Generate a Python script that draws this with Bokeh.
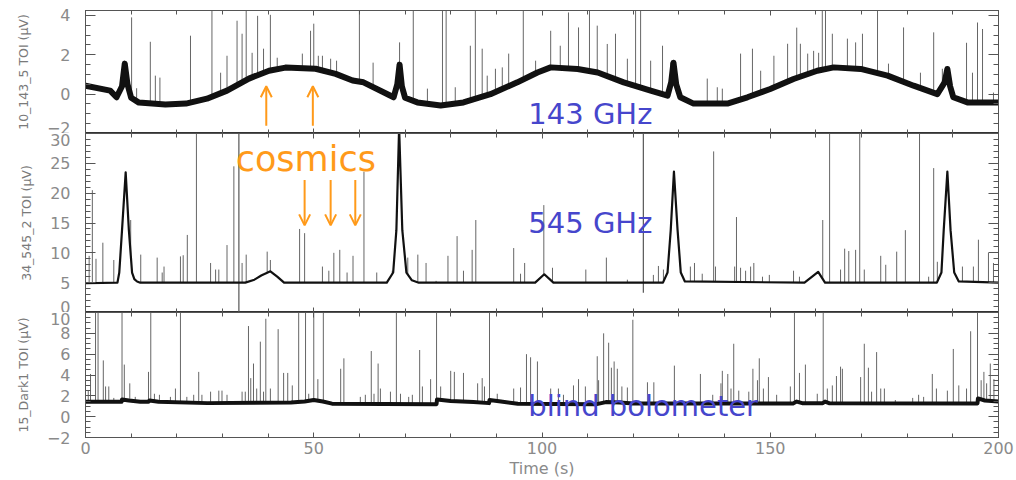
import numpy as np
from bokeh.plotting import figure
from bokeh.layouts import column
from bokeh.models import LinearAxis, FixedTicker, Range1d, Label, Arrow, OpenHead
from bokeh.embed import file_html
from bokeh.resources import INLINE

# ---------------- data ----------------
time_ticks = [0, 50, 100, 150, 200]
time_minor = list(range(0, 201, 10))

# Panel 1 : 143 GHz bolometer (µV)
p1_base_t = [0, 5.4, 6.8, 8.0, 8.6, 9.2, 10.0, 11.7, 17.5, 22.0, 26.6, 31.0, 35.8, 40.2, 43.8, 50.4,
             54.8, 58.5, 60.9, 67.5, 68.3, 68.8, 69.3, 70.0, 72.7, 77.8, 82.8, 88.7, 94.6, 99.0, 101.9,
             107.8, 112.2, 117.9, 123.8, 127.5, 128.3, 128.8, 129.4, 130.3, 133.2, 140.6, 145.0, 150.0,
             155.1, 160.3, 163.9, 169.8, 175.7, 181.4, 186.6, 188.2, 188.8, 189.4, 190.1, 193.2, 200]
p1_base_v = [0.43, 0.18, -0.16, 0.4, 1.55, 0.5, -0.18, -0.43, -0.53, -0.48, -0.23, 0.18, 0.79, 1.19, 1.35,
             1.29, 1.03, 0.69, 0.6, -0.16, 0.5, 1.5, 0.4, -0.18, -0.42, -0.58, -0.42, 0.0, 0.6, 1.1, 1.36,
             1.28, 1.1, 0.6, 0.18, -0.08, 0.6, 1.6, 0.5, -0.16, -0.48, -0.48, -0.16, 0.26,
             0.77, 1.19, 1.36, 1.28, 0.94, 0.43, 0.0, 0.6, 1.28, 0.4, -0.16, -0.42, -0.42]
p1_spike_t = [10.1, 11.2, 14.2, 15.3, 16.3, 23.0, 27.7, 29.6, 31.0, 33.2, 34.3, 35.2, 36.5, 37.7, 39.0,
              40.5, 42.0, 47.5, 49.3, 50.0, 51.0, 51.9, 53.7, 55.0, 60.0, 63.0, 68.8, 71.8, 74.9, 78.2,
              79.0, 81.0, 84.3, 85.4, 86.9, 88.0, 89.8, 91.3, 92.7, 95.9, 98.6, 101.9, 104.0, 105.8,
              108.0, 110.4, 112.1, 114.3, 116.1, 118.7, 120.5, 121.6, 123.8, 126.4, 128.2, 136.2, 138.4,
              139.5, 143.5, 146.1, 147.9, 150.8, 153.8, 155.8, 156.6, 158.2, 159.5, 160.6, 161.4, 162.1,
              163.6, 166.9, 168.7, 170.2, 173.5, 175.9, 179.2, 182.9, 185.8, 187.7, 193.0, 194.3, 195.4,
              196.5, 198.9]
p1_spike_v = [3.9, 0.3, 2.66, 0.94, 0.84, 2.97, 4.5, 1.09, 1.95, 3.73, 3.07, 4.5, 2.1, 3.98, 2.31,
              4.03, 1.85, 2.06, 3.22, 3.58, 1.95, 1.95, 1.8, 1.7, 4.5, 1.6, 2.63, 4.5, 0.28, 4.5,
              4.5, 0.35, 2.46, 4.5, 2.31, 0.94, 1.29, 1.36, 2.06, 4.5, 1.7, 3.22, 2.46, 4.15,
              3.39, 4.5, 3.48, 2.55, 3.07, 1.8, 4.5, 4.5, 1.7, 2.46, 1.6, 0.79, 0.35,
              0.28, 2.06, 2.31, 1.19, 1.95, 2.56, 3.38, 2.56, 2.06, 2.2, 2.1, 4.5, 4.5,
              3.07, 2.82, 2.63, 3.07, 4.5, 1.55, 3.39, 1.09, 3.14, 1.29, 2.61, 1.09, 3.64,
              3.31, 0.08]

# Panel 2 : 545 GHz bolometer (µV)
p2_base_t = [0, 7.0, 7.4, 8.0, 8.8, 9.5, 10.2, 10.7, 11.3, 12.0, 35.0, 37.0, 38.5, 40.5, 42.0, 43.5,
             66.0, 67.4, 68.1, 68.7, 69.4, 70.3, 71.5, 73.0, 98.5, 100.5, 102.5,
             126.5, 127.5, 128.2, 128.9, 129.7, 130.4, 131.3, 157.5, 160.5, 162.0,
             186.5, 187.5, 188.0, 188.8, 189.5, 190.3, 191.3, 200]
p2_base_v = [4.9, 5.0, 6.7, 13.8, 23.5, 13.8, 6.7, 5.6, 5.2, 5.0, 5.0, 5.5, 6.2, 6.9, 6.0, 5.0,
             5.0, 6.7, 13.8, 31.0, 13.8, 6.7, 5.4, 5.0, 5.0, 6.4, 5.0,
             5.0, 6.7, 13.8, 23.6, 13.8, 6.7, 5.2, 5.0, 6.8, 5.0,
             5.0, 6.7, 13.8, 23.6, 13.8, 6.7, 5.2, 5.0]
p2_spike_t = [0.8, 1.5, 2.3, 3.8, 6.2, 9.9, 12.1, 15.7, 16.8, 17.2, 20.8, 21.4, 22.3, 24.3, 27.4, 28.5,
              29.2, 31.0, 32.5, 34.3, 35.2, 39.8, 40.5, 46.9, 48.0, 51.9, 53.3, 54.4, 55.7, 57.3, 58.6,
              61.0, 63.8, 67.2, 70.6, 72.8, 74.6, 76.8, 79.4, 81.4, 82.8, 84.7, 85.5, 93.8, 95.3, 96.2,
              100.4, 102.3, 109.6, 114.1, 118.7, 124.4, 125.5, 126.6, 130.3, 132.5, 133.4, 135.1, 137.6,
              138.0, 142.2, 142.6, 143.5, 144.6, 145.7, 146.4, 148.3, 149.8, 155.1, 156.4, 161.5, 163.0,
              165.4, 166.3, 167.2, 168.7, 169.6, 170.6, 174.2, 175.3, 177.7, 179.6, 182.7, 184.7, 185.8,
              186.6, 192.1, 194.5, 195.6, 197.8, 198.9]
p2_spike_v = [9.5, 20.5, 9.0, 11.7, 8.8, 15.5, 9.7, 9.2, 6.7, 7.7, 9.4, 9.6, 13.0, 31.0, 8.3, 7.2,
              7.2, 11.3, 24.5, 8.3, 9.7, 10.2, 8.8, 14.0, 13.3, 7.7, 7.0, 10.0, 10.5, 6.7, 9.5,
              23.6, 6.7, 7.0, 9.2, 9.7, 8.3, 5.3, 9.5, 12.8, 7.0, 10.5, 15.5, 10.8, 6.5, 8.3,
              18.0, 7.5, 7.2, 9.2, 5.5, 6.3, 7.8, 7.2, 8.3, 7.7, 8.3, 6.5, 27.0,
              7.7, 7.7, 16.0, 7.5, 7.0, 7.7, 8.3, 6.0, 6.3, 7.0, 6.0, 15.5, 31.0,
              7.2, 10.7, 10.3, 10.5, 31.0, 7.2, 9.5, 8.0, 10.2, 13.8, 31.0, 6.0, 24.2,
              8.5, 7.7, 7.7, 12.2, 10.0, 8.3]
# glitches that also go below the baseline
p2_glitch_t = [33.6, 122.2]
p2_glitch_lo = [0.0, 3.3]
p2_glitch_hi = [31.0, 31.0]

# Panel 3 : blind (dark) bolometer (µV)
p3_base_t = [0, 7.9, 8.0, 9.5, 12.0, 13.8, 14.0, 16.0, 26.7, 45.0, 48.0, 50.0, 52.0, 54.0, 76.9, 77.0,
             80.0, 85.0, 88.4, 88.5, 91.0, 94.7, 112.0, 114.0, 117.0, 120.0, 155.0, 155.8, 157.0,
             161.5, 162.0, 163.0, 195.4, 195.5, 197.0, 200]
p3_base_v = [1.43, 1.43, 1.65, 1.55, 1.43, 1.43, 1.55, 1.43, 1.3, 1.35, 1.45, 1.6, 1.45, 1.25, 1.2, 1.65,
             1.5, 1.4, 1.3, 1.6, 1.45, 1.25, 1.2, 1.4, 1.35, 1.27, 1.27, 1.45, 1.3,
             1.3, 1.45, 1.28, 1.27, 1.75, 1.55, 1.45]
p3_spike_t = [0.6, 1.1, 2.2, 2.75, 3.9, 4.4, 5.1, 6.2, 8.0, 8.5, 9.7, 10.9, 13.8, 14.3, 15.1, 16.2, 18.6,
              19.7, 20.8, 22.2, 23.7, 24.8, 25.5, 27.4, 29.2, 29.9, 31.0, 34.3, 35.0, 35.7, 36.2, 36.8,
              37.5, 38.3, 39.0, 39.5, 40.5, 42.2, 43.4, 44.3, 45.3, 46.7, 48.2, 48.9, 50.0, 50.9, 52.1,
              55.9, 56.6, 60.2, 61.3, 62.6, 63.2, 64.1, 64.6, 66.8, 68.1, 69.0, 70.8, 71.6, 73.2, 73.8,
              75.6, 76.9, 77.8, 80.0, 80.8, 82.8, 85.9, 86.9, 87.4, 88.5, 90.2, 93.8, 95.3, 96.6, 97.5,
              99.0, 101.9, 103.6, 104.7, 106.9, 108.0, 109.5, 112.1, 112.4, 113.5, 114.6, 115.2, 115.8,
              116.5, 117.5, 118.7, 119.9, 123.1, 124.5, 129.0, 134.7, 137.4, 139.2, 139.5, 140.7, 141.4,
              142.0, 143.1, 145.3, 146.2, 147.2, 147.6, 148.5, 149.6, 151.4, 154.4, 155.3, 156.4, 157.7,
              160.3, 161.6, 162.5, 163.6, 164.5, 165.4, 165.8, 169.8, 170.6, 171.5, 172.2, 173.3, 174.2,
              175.0, 177.4, 181.2, 182.5, 183.6, 185.5, 186.4, 188.8, 190.1, 191.3, 193.0, 193.9, 195.4,
              196.2, 196.8, 197.4, 198.2, 199.0]
p3_spike_v = [2.5, 4.1, 10.5, 10.5, 5.4, 2.9, 2.9, 1.8, 10.5, 5.0, 3.2, 1.9, 4.3, 10.5, 2.2, 2.1, 1.9,
              2.7, 10.5, 1.9, 2.1, 4.3, 2.1, 2.4, 2.5, 2.5, 2.1, 2.4, 2.4, 8.7, 3.7, 5.1,
              2.7, 7.2, 2.4, 9.4, 2.7, 8.4, 4.2, 4.2, 3.0, 10.5, 10.5, 2.2, 10.5, 3.6, 10.5,
              4.6, 5.6, 1.9, 2.1, 6.3, 2.2, 5.1, 2.7, 2.4, 10.5, 2.2, 1.9, 2.1, 6.4, 2.9,
              3.6, 10.5, 2.9, 4.4, 4.3, 4.2, 3.2, 3.7, 2.9, 10.5, 2.2, 2.7, 2.8, 6.0, 5.7,
              5.3, 2.7, 2.7, 2.1, 3.0, 3.6, 2.9, 5.8, 3.5, 8.0, 7.1, 4.7, 5.3,
              4.6, 2.9, 2.8, 9.3, 3.3, 3.3, 4.9, 4.1, 2.1, 3.2, 4.4, 4.1, 2.7,
              7.0, 2.5, 2.4, 4.6, 3.5, 5.6, 2.7, 3.8, 2.1, 2.9, 10.5, 4.2, 5.0,
              2.2, 10.5, 2.7, 3.0, 3.9, 4.8, 4.6, 3.8, 7.0, 4.7, 2.4, 6.2, 2.7,
              2.7, 1.6, 1.8, 2.1, 1.9, 4.1, 2.7, 2.5, 6.5, 3.0, 2.7, 8.2, 10.5,
              3.5, 4.3, 3.2, 5.1, 3.6]

# ---------------- styling ----------------
FONT = "DejaVu Sans"
AX = "#555555"
LAB = "#8a8a8a"
BLUE = "#4646cc"
ORANGE = "#ff9a1a"
XR = Range1d(0, 200)


def hide_labels(ax):
    # labels are measured (1px) but never painted
    ax.major_label_text_font_size = "1px"
    ax.major_label_text_color = None
    ax.major_label_standoff = 0
    ax.axis_label = None


def style_ticks(ax, major_in, minor_in):
    ax.major_tick_in = major_in
    ax.major_tick_out = 0
    ax.minor_tick_in = minor_in
    ax.minor_tick_out = 0
    ax.axis_line_color = AX
    ax.major_tick_line_color = AX
    ax.minor_tick_line_color = AX


def panel(height, btop, bbottom, yr, yticks, yminor, ylabel, bottom_labels=False):
    p = figure(width=1016, height=height, x_range=XR, y_range=Range1d(*yr),
               output_backend="svg", toolbar_location=None,
               x_axis_location=None, y_axis_location=None,
               min_border_left=85, min_border_right=18,
               min_border_top=btop, min_border_bottom=bbottom)
    p.outline_line_color = "#333333"
    p.outline_line_width = 1
    p.background_fill_color = "white"
    p.border_fill_color = "white"
    p.grid.grid_line_color = None
    p.grid.visible = False

    left = LinearAxis(ticker=FixedTicker(ticks=yticks, minor_ticks=yminor), axis_label=ylabel)
    style_ticks(left, 10, 5)
    left.major_label_standoff = 15
    left.major_label_text_font = FONT
    left.major_label_text_font_size = "16px"
    left.major_label_text_color = LAB
    left.axis_label_text_font = FONT
    left.axis_label_text_font_size = "12.5px"
    left.axis_label_text_font_style = "normal"
    left.axis_label_text_color = "#7a7a7a"
    left.axis_label_standoff = 13
    p.add_layout(left, "left")

    right = LinearAxis(ticker=FixedTicker(ticks=yticks, minor_ticks=yminor))
    style_ticks(right, 10, 5)
    hide_labels(right)
    p.add_layout(right, "right")

    top = LinearAxis(ticker=FixedTicker(ticks=time_ticks, minor_ticks=time_minor))
    style_ticks(top, 5, 4)
    hide_labels(top)
    p.add_layout(top, "above")

    bot = LinearAxis(ticker=FixedTicker(ticks=time_ticks, minor_ticks=time_minor))
    style_ticks(bot, 5, 4)
    if bottom_labels:
        bot.axis_label = "Time (s)"
        bot.major_label_standoff = 4
        bot.major_label_text_font = FONT
        bot.major_label_text_font_size = "16px"
        bot.major_label_text_color = LAB
        bot.axis_label_text_font = FONT
        bot.axis_label_text_font_size = "16px"
        bot.axis_label_text_font_style = "normal"
        bot.axis_label_text_color = LAB
        bot.axis_label_standoff = 2
    else:
        hide_labels(bot)
    p.add_layout(bot, "below")
    return p


def spikes(p, t, top, base_t, base_v, color="#666666"):
    t = np.asarray(t, dtype=float)
    bottom = np.interp(t, base_t, base_v)
    p.segment(x0=t, y0=bottom, x1=t, y1=np.asarray(top, dtype=float),
              line_color=color, line_width=1)


def note(p, x, y, text, color, size):
    p.add_layout(Label(x=x, y=y, text=text, text_font=FONT, text_font_size=size,
                       text_color=color))


# ---------------- panel 1 : 143 GHz ----------------
p1 = panel(133, 10, 0, (-2, 4.25), [-2, 0, 2, 4], list(np.arange(-2, 4.26, 0.5)),
           "10_143_5 TOI (μV)")
spikes(p1, p1_spike_t, p1_spike_v, p1_base_t, p1_base_v)
p1.line(p1_base_t, p1_base_v, line_color="#111111", line_width=6, line_join="round")
note(p1, 97, -1.85, "143 GHz", BLUE, "29px")
for xa in (39.6, 49.8):
    p1.add_layout(Arrow(end=OpenHead(size=11, line_color=ORANGE, line_width=2),
                        x_start=xa, y_start=-1.6, x_end=xa, y_end=0.4,
                        line_color=ORANGE, line_width=2))

# ---------------- panel 2 : 545 GHz ----------------
p2 = panel(179, 0, 0, (0, 30), [0, 5, 10, 15, 20, 25, 30], list(range(0, 31)),
           "34_545_2 TOI (μV)")
spikes(p2, p2_spike_t, p2_spike_v, p2_base_t, p2_base_v)
p2.segment(x0=p2_glitch_t, y0=p2_glitch_lo, x1=p2_glitch_t, y1=p2_glitch_hi,
           line_color="#555555", line_width=1.2)
p2.line(p2_base_t, p2_base_v, line_color="#111111", line_width=2.2, line_join="round")
note(p2, 97, 12.15, "545 GHz", BLUE, "29px")
note(p2, 32.9, 22.4, "cosmics", ORANGE, "35px")
for xa in (48.0, 53.7, 59.1):
    p2.add_layout(Arrow(end=OpenHead(size=11, line_color=ORANGE, line_width=2),
                        x_start=xa, y_start=22.2, x_end=xa, y_end=14.6,
                        line_color=ORANGE, line_width=2))

# ---------------- panel 3 : blind bolometer ----------------
p3 = panel(168, 0, 43, (-2, 10), [-2, 0, 2, 4, 6, 8, 10], list(np.arange(-2, 10.01, 0.5)),
           "15_Dark1 TOI (μV)", bottom_labels=True)
spikes(p3, p3_spike_t, p3_spike_v, p3_base_t, p3_base_v)
p3.line(p3_base_t, p3_base_v, line_color="#111111", line_width=4, line_join="round")
note(p3, 97, -0.6, "blind bolometer", BLUE, "29px")

layout = column(p1, p2, p3, spacing=0)
open("out.html", "w").write(file_html(layout, INLINE))
